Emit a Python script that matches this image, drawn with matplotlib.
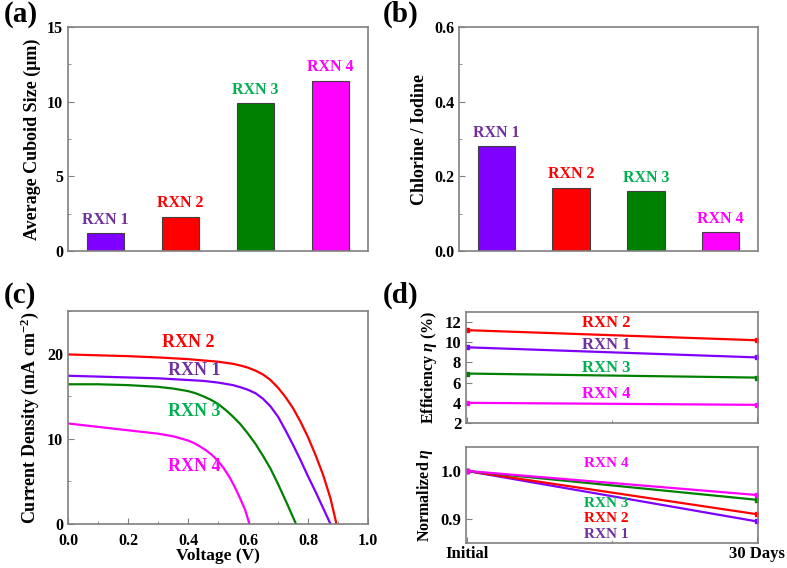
import numpy as np
import matplotlib
matplotlib.use("Agg")
import matplotlib.pyplot as plt
from matplotlib.ticker import MultipleLocator

plt.rcParams['font.family'] = ['Liberation Serif', 'DejaVu Serif']
plt.rcParams['font.weight'] = 'bold'
plt.rcParams['axes.labelweight'] = 'bold'
plt.rcParams['mathtext.fontset'] = 'custom'
plt.rcParams['mathtext.rm'] = 'Liberation Serif:bold'
plt.rcParams['mathtext.it'] = 'Liberation Serif:italic:bold'
plt.rcParams['mathtext.bf'] = 'Liberation Serif:bold'

# data
rxn = ['RXN 1', 'RXN 2', 'RXN 3', 'RXN 4']
bar_colors = ['#8000ff', '#ff0000', '#008000', '#ff00ff']
text_colors = ['#7030a0', '#ff0000', '#00b050', '#ff00ff']

cuboid_size = [1.2, 2.3, 9.9, 11.4]
cl_i_ratio = [0.28, 0.17, 0.16, 0.05]

# J-V curves
v_rxn1 = [0, 0.1, 0.2, 0.3, 0.4, 0.45, 0.5, 0.55, 0.575, 0.6, 0.625, 0.65, 0.675,
          0.7, 0.725, 0.75, 0.775, 0.8, 0.825, 0.85, 0.875]
j_rxn1 = [17.4, 17.3, 17.2, 17.1, 16.9, 16.8, 16.6, 16.3, 16.05, 15.75, 15.35, 14.7, 13.8,
          12.6, 11.0, 9.3, 7.5, 5.6, 3.8, 1.9, 0]
v_rxn2 = [0, 0.1, 0.2, 0.3, 0.4, 0.45, 0.5, 0.55, 0.575, 0.6, 0.625, 0.65, 0.675,
          0.7, 0.725, 0.75, 0.775, 0.8, 0.825, 0.85, 0.875, 0.895]
j_rxn2 = [19.9, 19.8, 19.7, 19.55, 19.35, 19.2, 19.05, 18.8, 18.6, 18.35, 18.0, 17.55, 16.9,
          16.0, 14.9, 13.6, 12.0, 10.2, 8.1, 5.8, 3.0, 0]
v_rxn3 = [0, 0.1, 0.2, 0.3, 0.35, 0.4, 0.425, 0.45, 0.475, 0.5, 0.525, 0.55, 0.575,
          0.6, 0.625, 0.65, 0.675, 0.7, 0.73, 0.76]
j_rxn3 = [16.4, 16.4, 16.3, 16.1, 15.9, 15.6, 15.35, 15.0, 14.6, 14.1, 13.4, 12.6, 11.7,
          10.6, 9.4, 8.0, 6.5, 4.7, 2.4, 0]
v_rxn4 = [0, 0.1, 0.2, 0.3, 0.35, 0.375, 0.4, 0.42, 0.44, 0.46, 0.48, 0.5, 0.52,
          0.54, 0.555, 0.57, 0.59, 0.605]
j_rxn4 = [11.8, 11.4, 11.0, 10.6, 10.3, 10.05, 9.8, 9.5, 9.1, 8.65, 8.1, 7.4, 6.5,
          5.4, 4.4, 3.3, 1.7, 0]
jv_v = [v_rxn1, v_rxn2, v_rxn3, v_rxn4]
jv_j = [j_rxn1, j_rxn2, j_rxn3, j_rxn4]

days = ['Initial', '30 Days']
efficiency = [[9.5, 8.5], [11.2, 10.2], [6.9, 6.5], [4.0, 3.8]]
normalized = [[1.0, 0.895], [1.0, 0.91], [1.0, 0.94], [1.0, 0.95]]

W, H = 787, 568
fig = plt.figure(figsize=(W / 100, H / 100), dpi=100)


def px_axes(left, top, right, bottom):
    return fig.add_axes([left / W, 1 - bottom / H, (right - left) / W, (bottom - top) / H])


def style(ax, size):
    for s in ax.spines.values():
        s.set_color('#808080')
        s.set_linewidth(1.2)
    ax.tick_params(which='both', direction='in', labelsize=size, color='#808080')
    ax.tick_params(which='major', length=4)
    ax.tick_params(which='minor', length=2)


# (a)
ax = px_axes(68, 27, 368, 251)
x = np.arange(1, 5)
ax.bar(x, cuboid_size, width=0.5, color=bar_colors, edgecolor='#404040', linewidth=0.8)
for i in range(4):
    ax.annotate(rxn[i], (x[i], cuboid_size[i]), xytext=(0, 4), textcoords='offset points',
                ha='center', va='bottom', color=text_colors[i], fontsize=11.5)
ax.set_xlim(0.5, 4.5)
ax.set_ylim(0, 15)
ax.set_xticks([])
ax.yaxis.set_major_locator(MultipleLocator(5))
ax.yaxis.set_minor_locator(MultipleLocator(2.5))
ax.set_ylabel('Average Cuboid Size (\u03bcm)', fontsize=13)
style(ax, 11.5)

# (b)
ax = px_axes(459, 27, 758, 251)
ax.bar(x, cl_i_ratio, width=0.5, color=bar_colors, edgecolor='#404040', linewidth=0.8)
for i in range(4):
    ax.annotate(rxn[i], (x[i], cl_i_ratio[i]), xytext=(0, 4), textcoords='offset points',
                ha='center', va='bottom', color=text_colors[i], fontsize=11.5)
ax.set_xlim(0.5, 4.5)
ax.set_ylim(0, 0.6)
ax.set_xticks([])
ax.yaxis.set_major_locator(MultipleLocator(0.2))
ax.yaxis.set_minor_locator(MultipleLocator(0.1))
ax.set_ylabel('Chlorine / Iodine', fontsize=13)
style(ax, 11.5)

# (c)
ax = px_axes(68, 311, 368, 524)
for i in range(4):
    ax.plot(jv_v[i], jv_j[i], color=bar_colors[i], lw=1.6)
ax.text(0.40, 21.3, 'RXN 2', color=text_colors[1], fontsize=13, ha='center', va='center')
ax.text(0.42, 18.0, 'RXN 1', color=text_colors[0], fontsize=13, ha='center', va='center')
ax.text(0.42, 13.2, 'RXN 3', color=text_colors[2], fontsize=13, ha='center', va='center')
ax.text(0.42, 6.7, 'RXN 4', color=text_colors[3], fontsize=13, ha='center', va='center')
ax.set_xlim(0, 1.0)
ax.set_ylim(0, 25)
ax.xaxis.set_major_locator(MultipleLocator(0.2))
ax.xaxis.set_minor_locator(MultipleLocator(0.1))
ax.yaxis.set_major_locator(MultipleLocator(10))
ax.yaxis.set_minor_locator(MultipleLocator(5))
ax.set_xlabel('Voltage (V)', fontsize=12.5, labelpad=-1)
ax.set_ylabel('Current Density (mA cm$^{-2}$)', fontsize=13)
style(ax, 11.5)
ax.tick_params(axis='x', pad=6.5)

# (d) top
xd = [0, 1]
ax = px_axes(466, 312, 758, 423)
for i in range(4):
    ax.plot(xd, efficiency[i], color=bar_colors[i], lw=1.6, marker='s', ms=3.5)
ax.text(0.48, 11.9, 'RXN 2', color=text_colors[1], fontsize=12, ha='center', va='center')
ax.text(0.48, 9.7, 'RXN 1', color=text_colors[0], fontsize=12, ha='center', va='center')
ax.text(0.48, 7.45, 'RXN 3', color=text_colors[2], fontsize=12, ha='center', va='center')
ax.text(0.48, 4.85, 'RXN 4', color=text_colors[3], fontsize=12, ha='center', va='center')
ax.set_xlim(-0.004, 1.004)
ax.set_ylim(2, 13)
ax.set_xticks(xd)
ax.set_xticklabels([])
ax.xaxis.set_minor_locator(MultipleLocator(0.5))
ax.yaxis.set_major_locator(MultipleLocator(2))
ax.set_ylabel('Efficiency $\\mathit{\\eta}$ (%)', fontsize=11.5)
style(ax, 12)

# (d) bottom
ax = px_axes(466, 447, 758, 543)
for i in range(4):
    ax.plot(xd, normalized[i], color=bar_colors[i], lw=1.6, marker='s', ms=3.5)
ax.text(0.48, 1.016, 'RXN 4', color=text_colors[3], fontsize=11, ha='center', va='center')
ax.text(0.48, 0.932, 'RXN 3', color=text_colors[2], fontsize=11, ha='center', va='center')
ax.text(0.48, 0.900, 'RXN 2', color=text_colors[1], fontsize=11, ha='center', va='center')
ax.text(0.48, 0.868, 'RXN 1', color=text_colors[0], fontsize=11, ha='center', va='center')
ax.set_xlim(-0.004, 1.004)
ax.set_ylim(0.85, 1.05)
ax.set_xticks(xd)
ax.set_xticklabels(days)
ax.xaxis.set_minor_locator(MultipleLocator(0.5))
ax.yaxis.set_major_locator(MultipleLocator(0.1))
ax.set_ylabel('Normalized $\\mathit{\\eta}$', fontsize=11.5)
style(ax, 12)
ax.tick_params(axis='x', pad=2)

# panel letters
for lab, (px, py) in zip(['(a)', '(b)', '(c)', '(d)'],
                         [(4, 1), (383, 1), (4, 282), (383, 282)]):
    fig.text(px / W, 1 - py / H, lab, fontsize=21, fontweight='bold', ha='left', va='top')

fig.savefig('out.png', dpi=100)
